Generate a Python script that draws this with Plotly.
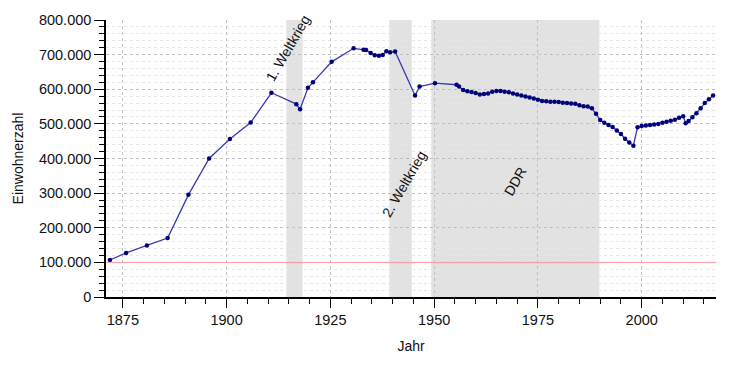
import plotly.graph_objects as go

# ---- data ----
years = [1871.9, 1875.8, 1880.8, 1885.8, 1890.8, 1895.8, 1900.8, 1905.8, 1910.8,
         1916.8, 1917.7, 1919.6, 1920.8, 1925.3, 1930.6, 1933.0, 1933.6, 1934.7,
         1935.7, 1936.7, 1937.6, 1938.5, 1939.4, 1940.6, 1945.4, 1946.5, 1950.2,
         1955.4, 1956, 1957, 1958, 1959, 1960, 1961, 1962, 1963, 1964, 1965, 1966,
         1967, 1968, 1969, 1970, 1971, 1972, 1973, 1974, 1975, 1976, 1977, 1978,
         1979, 1980, 1981, 1982, 1983, 1984, 1985, 1986, 1987, 1988, 1989, 1990,
         1991, 1992, 1993, 1994, 1995, 1996, 1997, 1998, 1999, 2000, 2001, 2002,
         2003, 2004, 2005, 2006, 2007, 2008, 2009, 2010, 2010.6, 2011.3, 2012.2,
         2013.2, 2014.2, 2015.2, 2016.2, 2017.2]
population = [106925, 127387, 149081, 170340, 295025, 399963, 456124, 503672, 589850,
              557000, 542000, 604397, 620000, 679159, 718200, 714000, 713000, 705000,
              698000, 697000, 699000, 710000, 707000, 709000, 582000, 607655, 617574,
              613000, 608000, 598000, 594000, 592000, 589000, 585000, 586000, 588000,
              593000, 595000, 595000, 593000, 591000, 588000, 585000, 582000, 579000,
              576000, 573000, 570000, 566000, 565000, 564000, 564000, 563000, 561000,
              560000, 559000, 558000, 554000, 551000, 550000, 545000, 529000, 511000,
              503000, 497000, 491000, 481000, 471000, 457000, 446000, 437000, 490000,
              494000, 495000, 497000, 498000, 500000, 503000, 506000, 509000, 512000,
              518000, 522000, 502000, 508000, 519000, 531000, 545000, 560000, 571000,
              582000]

periods = [(1914.4, 1918.3, "1. Weltkrieg", 1914.8, 719000),
           (1939.2, 1944.6, "2. Weltkrieg", 1942.7, 327000),
           (1949.3, 1989.8, "DDR", 1969.4, 333000)]

x_ticks = [1875, 1900, 1925, 1950, 1975, 2000]
reference_level = 100000

FONT = "Liberation Sans, Arial, sans-serif"

fig = go.Figure()

fig.add_trace(go.Scatter(
    x=years, y=population, mode="lines+markers",
    line=dict(color="#3a3aae", width=1.3),
    marker=dict(color="#00007a", size=4.5),
    showlegend=False, hoverinfo="x+y"))

shapes = []
annotations = []
for x0, x1, label, lx, ly in periods:
    shapes.append(dict(type="rect", xref="x", yref="paper", x0=x0, x1=x1, y0=0, y1=1,
                       fillcolor="#e2e2e2", line=dict(width=0), layer="below"))
    annotations.append(dict(x=lx, y=ly, xref="x", yref="y", text=label, showarrow=False,
                            textangle=-60, font=dict(size=14, color="#111", family=FONT)))

shapes.append(dict(type="line", xref="paper", yref="y", x0=0, x1=1,
                   y0=reference_level, y1=reference_level,
                   line=dict(color="#ff9a9a", width=1), layer="above"))

fig.update_layout(
    width=730, height=366,
    margin=dict(l=106, r=14, t=17, b=69),
    paper_bgcolor="white", plot_bgcolor="white",
    separators=",.",
    font=dict(family=FONT, size=14, color="#111"),
    shapes=shapes, annotations=annotations,
    xaxis=dict(
        range=[1870.95, 2017.9], tickvals=x_ticks, ticks="outside", ticklen=9,
        tickwidth=1.2, tickcolor="black", showline=True, linecolor="black", linewidth=1.5,
        showgrid=True, gridcolor="#c0c0c0", griddash="dot", gridwidth=1,
        zeroline=False, tickfont=dict(size=14.5),
        minor=dict(dtick=5, tick0=1875, ticks="outside", ticklen=5, tickcolor="black",
                   tickwidth=1, showgrid=False),
        title=dict(text="Jahr", font=dict(size=14), standoff=14),
    ),
    yaxis=dict(
        range=[0, 800000], dtick=100000, tickformat=",d", ticks="outside", ticklen=10,
        tickwidth=1.2, tickcolor="black", showline=True, linecolor="black", linewidth=1.5,
        showgrid=True, gridcolor="#c0c0c0", griddash="dot", gridwidth=1,
        zeroline=False, tickfont=dict(size=14.5),
        minor=dict(dtick=20000, ticks="outside", ticklen=5, tickcolor="black", tickwidth=1,
                   showgrid=True, gridcolor="#e6e6e6", griddash="dot"),
        title=dict(text="Einwohnerzahl", font=dict(size=14), standoff=12),
    ),
)

fig.write_html("out.html")
